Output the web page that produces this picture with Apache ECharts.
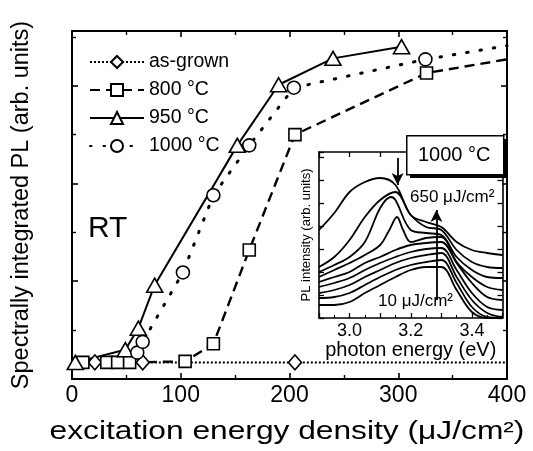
<!DOCTYPE html>
<html><head><meta charset="utf-8">
<script src="https://cdn.jsdelivr.net/npm/echarts@6/dist/echarts.min.js"></script>
<style>html,body{margin:0;padding:0;background:#fff}#c{width:533px;height:451px}</style>
</head><body><div id="c"></div>
<script>
const FONT = 'Liberation Sans, Arial, Helvetica, sans-serif';

// ---- main chart data (x: excitation energy density, y: integrated PL, arb. units)
const seriesNames = ['as-grown', '800 °C', '950 °C', '1000 °C'];
const xTicks = [0, 100, 200, 300, 400];
const asGrown = [[21, 0.17], [65, 0.17], [205, 0.17]];
const asGrownEnd = [400, 0.17];
const t800 = [[10, 0.17], [32, 0.17], [42, 0.17], [53, 0.17], [104, 0.18], [130, 0.36], [163, 1.32], [205, 2.50], [326, 3.13]];
const t800End = [400, 3.27];
const t950 = [[3, 0.17], [49, 0.30], [61, 0.52], [76, 0.96], [152, 2.39], [190, 3.01], [240, 3.28], [303, 3.40]];
const t1000 = [[60, 0.27], [65, 0.38], [102, 1.09], [130, 1.88], [163, 2.39], [204, 2.98], [325, 3.27]];
const t1000End = [400, 3.41];

// ---- inset data (photon energy in eV, PL intensity arb. units)
const insetTicks = ['3.0', '3.2', '3.4'];
const energies = [2.90, 2.95, 3.00, 3.05, 3.10, 3.15, 3.20, 3.25, 3.30, 3.35, 3.40, 3.45, 3.50];
const pl650 = [88, 105, 126, 136, 140, 133, 103, 96, 91, 76, 68, 65, 63];
const plB = [51, 61, 78, 101, 118, 126, 103, 91, 88, 68, 56, 51, 50];
const energiesC = [2.90, 2.95, 3.00, 3.05, 3.10, 3.135, 3.15, 3.20, 3.25, 3.30, 3.35, 3.40, 3.45, 3.50];
const plC = [46, 53, 61, 76, 110, 121, 118, 88, 85, 83, 61, 48, 41, 40];
const energiesD = [2.90, 2.95, 3.00, 3.05, 3.10, 3.13, 3.155, 3.175, 3.20, 3.25, 3.30, 3.35, 3.40, 3.45, 3.50];
const plD = [41, 48, 55, 63, 73, 88, 101, 88, 76, 80, 81, 56, 41, 31, 28];
const plE = [36, 41, 46, 55, 61, 68, 73, 75, 76, 55, 35, 21, 18];
const plF = [31, 35, 40, 48, 55, 61, 66, 69, 70, 48, 25, 11, 8];
const plG = [25, 28, 33, 41, 48, 55, 60, 63, 65, 41, 18, 5, 1];
const plH = [20, 21, 25, 33, 41, 48, 53, 56, 58, 35, 11, 1, 0];
const pl10 = [13, 13, 16, 25, 33, 41, 48, 51, 51, 28, 6, 0, 0];
const arrowDown = [[3.157, 160], [3.157, 133]];
const arrowUp = [[3.284, 18], [3.284, 108]];

const pair = (xs, ys) => xs.map((x, i) => [x, ys[i]]);

const chart = echarts.init(document.getElementById('c'), null, { renderer: 'canvas' });

const mainMarker = { color: '#fff', borderColor: '#000', borderWidth: 1.6 };
function mainSeries(name, data, end, symbol, size, lineStyle) {
  const d = data.map(p => p.slice());
  if (end) d.push({ value: end, symbol: 'none' });
  return {
    type: 'line', name, data: d, xAxisIndex: 0, yAxisIndex: 0,
    symbol, symbolSize: size, showSymbol: true,
    itemStyle: mainMarker, lineStyle: Object.assign({ color: '#000' }, lineStyle),
    z: 3, animation: false
  };
}
function insetSeries(data, extra) {
  return Object.assign({
    type: 'line', data, xAxisIndex: 2, yAxisIndex: 2, symbol: 'none', smooth: 0.35,
    lineStyle: { color: '#000', width: 1.8 }, z: 8, animation: false, silent: true
  }, extra || {});
}

const mainLine = { show: true, onZero: false, lineStyle: { color: '#000', width: 2 } };
const insetLine = { show: true, onZero: false, lineStyle: { color: '#000', width: 1.6 } };
const mainTick = { show: true, inside: true, length: 6, lineStyle: { width: 1.6, color: '#000' } };
const mainMinor = { show: true, splitNumber: 2, length: 4, lineStyle: { width: 1.4, color: '#000' } };
const insetTick = { show: true, inside: true, length: 5, lineStyle: { width: 1.3, color: '#000' } };

const option = {
  animation: false,
  backgroundColor: '#fff',
  textStyle: { fontFamily: FONT, color: '#000' },
  grid: [
    { left: 72, right: 26, top: 31, bottom: 72, show: false },
    { left: 319, right: 30.5, top: 152, bottom: 133, show: true, backgroundColor: '#fff', borderWidth: 0, z: 5 }
  ],
  legend: {
    data: seriesNames, orient: 'vertical', left: 84, top: 47,
    itemWidth: 54, itemHeight: 15, itemGap: 8,
    textStyle: { fontSize: 19.5, color: '#000', fontFamily: FONT },
    inactiveColor: '#000'
  },
  xAxis: [
    { gridIndex: 0, type: 'value', min: 0, max: 400, interval: 100, position: 'bottom',
      axisLine: mainLine, axisTick: mainTick, minorTick: mainMinor, splitLine: { show: false },
      axisLabel: { fontSize: 23, color: '#000', margin: 5, fontFamily: FONT, formatter: v => xTicks.includes(v) ? String(v) : '' } },
    { gridIndex: 0, type: 'value', min: 0, max: 400, interval: 100, position: 'top',
      axisLine: mainLine, axisTick: mainTick, minorTick: mainMinor, splitLine: { show: false }, axisLabel: { show: false } },
    { gridIndex: 1, type: 'value', min: 2.9, max: 3.5, interval: 0.1, position: 'bottom', z: 9,
      axisLine: insetLine, axisTick: insetTick,
      minorTick: { show: true, splitNumber: 2, length: 3, lineStyle: { width: 1, color: '#000' } },
      splitLine: { show: false },
      axisLabel: { fontSize: 18, color: '#000', margin: 4, fontFamily: FONT,
        formatter: v => { const s = (Math.round(v * 10) / 10).toFixed(1); return insetTicks.includes(s) ? s : ''; } },
      name: 'photon energy (eV)', nameLocation: 'middle', nameGap: 20,
      nameTextStyle: { fontSize: 20, color: '#000', fontFamily: FONT } },
    { gridIndex: 1, type: 'value', min: 2.9, max: 3.5, interval: 0.1, position: 'top', z: 9,
      axisLine: insetLine, axisTick: insetTick, splitLine: { show: false }, axisLabel: { show: false } }
  ],
  yAxis: [
    { gridIndex: 0, type: 'value', min: 0, max: 3.56, interval: 1, position: 'left',
      axisLine: mainLine, axisTick: mainTick, minorTick: mainMinor,
      splitLine: { show: false }, axisLabel: { show: false },
      name: 'Spectrally integrated PL (arb. units)', nameLocation: 'middle', nameGap: 38,
      nameTextStyle: { fontSize: 23.5, color: '#000', fontFamily: FONT } },
    { gridIndex: 0, type: 'value', min: 0, max: 3.56, interval: 1, position: 'right',
      axisLine: mainLine, axisTick: mainTick, minorTick: mainMinor,
      splitLine: { show: false }, axisLabel: { show: false } },
    { gridIndex: 1, type: 'value', min: 0, max: 166, interval: 23, position: 'left', z: 9,
      axisLine: insetLine, axisTick: insetTick,
      splitLine: { show: false }, axisLabel: { show: false },
      name: 'PL intensity (arb. units)', nameLocation: 'middle', nameGap: 6,
      nameTextStyle: { fontSize: 13, color: '#000', fontFamily: FONT } },
    { gridIndex: 1, type: 'value', min: 0, max: 166, interval: 23, position: 'right', z: 9,
      axisLine: insetLine, axisTick: insetTick,
      splitLine: { show: false }, axisLabel: { show: false } }
  ],
  graphic: [
    { type: 'text', x: 287, y: 432, scaleX: 1.22, z: 50,
      style: { text: 'excitation energy density (μJ/cm²)', font: '26px ' + FONT, fill: '#000',
        textAlign: 'center', textVerticalAlign: 'middle' } },
    { type: 'text', left: 88, top: 214, z: 50,
      style: { text: 'RT', font: '30px ' + FONT, fill: '#000' } },
    { type: 'rect', left: 410, top: 139, z: 60, shape: { width: 97, height: 39 }, style: { fill: '#000' } },
    { type: 'rect', left: 406, top: 135, z: 61, shape: { width: 97, height: 39 },
      style: { fill: '#fff', stroke: '#000', lineWidth: 1.5 } },
    { type: 'text', left: 418, top: 145, z: 62,
      style: { text: '1000 °C', font: '20px ' + FONT, fill: '#000' } },
    { type: 'text', left: 410, top: 189, z: 62,
      style: { text: '650 μJ/cm²', font: '17px ' + FONT, fill: '#000' } },
    { type: 'text', left: 378, top: 293, z: 62,
      style: { text: '10 μJ/cm²', font: '17px ' + FONT, fill: '#000' } }
  ],
  series: [
    mainSeries('as-grown', asGrown, asGrownEnd, 'diamond', [13, 15], { type: [2, 2], width: 2 }),
    mainSeries('800 °C', t800, t800End, 'rect', 12, { type: [10, 6], width: 2.4 }),
    mainSeries('950 °C', t950, null, 'triangle', [16, 14], { type: 'solid', width: 2 }),
    mainSeries('1000 °C', t1000, t1000End, 'circle', 13, { type: [1.5, 12], width: 3, cap: 'round' }),
    insetSeries(pair(energies, pl650), {
      markLine: { silent: true, symbol: ['none', 'arrow'], symbolSize: [9, 12],
        lineStyle: { color: '#000', width: 1.8, type: 'solid' }, label: { show: false },
        data: [
          [{ coord: arrowDown[0] }, { coord: arrowDown[1] }],
          [{ coord: arrowUp[0] }, { coord: arrowUp[1] }]
        ] }
    }),
    insetSeries(pair(energies, plB)),
    insetSeries(pair(energiesC, plC)),
    insetSeries(pair(energiesD, plD)),
    insetSeries(pair(energies, plE)),
    insetSeries(pair(energies, plF)),
    insetSeries(pair(energies, plG)),
    insetSeries(pair(energies, plH)),
    insetSeries(pair(energies, pl10))
  ]
};
chart.setOption(option);
</script></body></html>
